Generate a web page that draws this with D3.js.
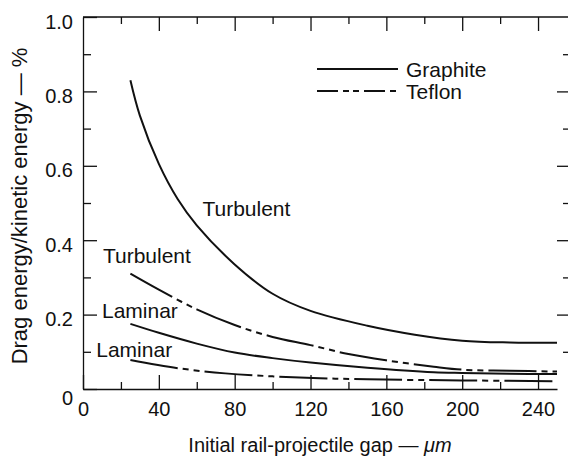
<!DOCTYPE html>
<html>
<head>
<meta charset="utf-8">
<script src="https://cdn.jsdelivr.net/npm/d3@7/dist/d3.min.js"></script>
<style>
  html, body { margin: 0; padding: 0; background: #fff; }
  svg { display: block; }
  text { font-family: "Liberation Sans", Arial, Helvetica, sans-serif; fill: #111; }
</style>
</head>
<body>
<svg id="chart" width="568" height="462"></svg>
<script>
// Initial rail-projectile gap (µm)
const gapTurbGraphite = [25, 30, 40, 50, 60, 80, 100, 120, 150, 175, 200, 225, 250];
const graphiteTurbulent = [0.83, 0.735, 0.605, 0.51, 0.44, 0.335, 0.256, 0.210, 0.170, 0.146, 0.130, 0.125, 0.124];

const gapTurbTeflon = [25, 40, 60, 80, 100, 120, 140, 160, 185, 200, 225, 250];
const teflonTurbulent = [0.31, 0.267, 0.214, 0.172, 0.140, 0.118, 0.094, 0.077, 0.060, 0.052, 0.049, 0.047];

const gapLamGraphite = [25, 40, 60, 80, 100, 120, 150, 185, 200, 225, 250];
const graphiteLaminar = [0.175, 0.151, 0.122, 0.098, 0.083, 0.071, 0.057, 0.045, 0.043, 0.041, 0.040];

const gapLamTeflon = [25, 50, 75, 100, 125, 150, 200, 250];
const teflonLaminar = [0.078, 0.056, 0.042, 0.034, 0.029, 0.026, 0.023, 0.021];

// Axis ticks
const xMajorTicks = [0, 40, 80, 120, 160, 200, 240];
const xMinorTicks = [20, 60, 100, 140, 180, 220];
const yMajorTicks = [0, 0.2, 0.4, 0.6, 0.8, 1.0];
const yMinorTicks = [0.1, 0.3, 0.5, 0.7, 0.9];

const legendLabels = ["Graphite", "Teflon"];

const W = 568, H = 462;
const plotLeft = 83, plotRight = 557, plotTop = 17, plotBottom = 389;

const svg = d3.select("#chart");
const x = d3.scaleLinear().domain([0, 250]).range([plotLeft, plotRight]);
const y = d3.scaleLinear().domain([0, 1]).range([plotBottom, plotTop]);

const ink = "#111";
const axisStroke = 1.3;

function styleAxis(g) {
  g.selectAll("path, line").attr("stroke", ink).attr("stroke-width", axisStroke);
  g.selectAll("text").attr("fill", ink).style("font-size", "20px")
    .style("font-family", '"Liberation Sans", Arial, Helvetica, sans-serif');
}

// Bottom axis: labelled majors, short minors
svg.append("g").attr("transform", `translate(0,${plotBottom})`)
  .call(d3.axisBottom(x).tickValues(xMajorTicks).tickSizeInner(-14).tickSizeOuter(0)
    .tickPadding(13).tickFormat(d3.format("d")))
  .call(styleAxis)
  .call(g => g.selectAll("text").attr("dy", "0.71em"));
svg.append("g").attr("transform", `translate(0,${plotBottom})`)
  .call(d3.axisBottom(x).tickValues(xMinorTicks).tickSizeInner(-7).tickSizeOuter(0).tickFormat(""))
  .call(styleAxis)
  .call(g => g.select(".domain").remove());

// Top frame with inward ticks
svg.append("line").attr("x1", plotLeft).attr("x2", W).attr("y1", plotTop).attr("y2", plotTop)
  .attr("stroke", ink).attr("stroke-width", axisStroke);
svg.append("g").attr("transform", `translate(0,${plotTop})`)
  .call(d3.axisTop(x).tickValues(xMajorTicks.slice(1)).tickSizeInner(-14).tickSizeOuter(0).tickFormat(""))
  .call(styleAxis)
  .call(g => g.select(".domain").remove());
svg.append("g").attr("transform", `translate(0,${plotTop})`)
  .call(d3.axisTop(x).tickValues(xMinorTicks).tickSizeInner(-7).tickSizeOuter(0).tickFormat(""))
  .call(styleAxis)
  .call(g => g.select(".domain").remove());

// Left axis
svg.append("g").attr("transform", `translate(${plotLeft},0)`)
  .call(d3.axisLeft(y).tickValues(yMajorTicks).tickSizeInner(-14).tickSizeOuter(0)
    .tickPadding(10).tickFormat(d => d === 0 ? "0" : d3.format(".1f")(d)))
  .call(styleAxis)
  .call(g => g.selectAll("text").attr("dy", d => d === 0 ? "0.75em" : "0.55em"));
svg.append("g").attr("transform", `translate(${plotLeft},0)`)
  .call(d3.axisLeft(y).tickValues(yMinorTicks).tickSizeInner(-8).tickSizeOuter(0).tickFormat(""))
  .call(styleAxis)
  .call(g => g.select(".domain").remove());

// Right side ticks (frame edge)
svg.append("g").attr("transform", `translate(${W},0)`)
  .call(d3.axisRight(y).tickValues(yMajorTicks.slice(1, -1)).tickSizeInner(-11).tickSizeOuter(0).tickFormat(""))
  .call(styleAxis)
  .call(g => g.select(".domain").remove());
svg.append("g").attr("transform", `translate(${W},0)`)
  .call(d3.axisRight(y).tickValues(yMinorTicks).tickSizeInner(-5).tickSizeOuter(0).tickFormat(""))
  .call(styleAxis)
  .call(g => g.select(".domain").remove());

// Curves
const teflonDash = "48,5,6,5,6,5";
const line = d3.line().x(d => x(d[0])).y(d => y(d[1])).curve(d3.curveCatmullRom.alpha(0.5));
const series = [
  { gaps: gapTurbGraphite, values: graphiteTurbulent, dash: null },
  { gaps: gapTurbTeflon, values: teflonTurbulent, dash: teflonDash },
  { gaps: gapLamGraphite, values: graphiteLaminar, dash: null },
  { gaps: gapLamTeflon, values: teflonLaminar, dash: teflonDash }
];
svg.append("g").selectAll("path").data(series).join("path")
  .attr("d", s => line(d3.zip(s.gaps, s.values)))
  .attr("fill", "none")
  .attr("stroke", ink)
  .attr("stroke-width", 2)
  .attr("stroke-dasharray", s => s.dash);

// Regime labels
const notes = [
  { text: "Turbulent", gx: 63, gy: 0.465 },
  { text: "Turbulent", gx: 10.5, gy: 0.338 },
  { text: "Laminar", gx: 10, gy: 0.19 },
  { text: "Laminar", gx: 7, gy: 0.085 }
];
svg.append("g").selectAll("text").data(notes).join("text")
  .attr("x", d => x(d.gx)).attr("y", d => y(d.gy))
  .style("font-size", "21px")
  .text(d => d.text);

// Legend
const legendDash = [null, "21,5,6,4,6,5"];
const lg = svg.append("g");
legendLabels.forEach((label, i) => {
  const ly = 69 + i * 22;
  lg.append("line").attr("x1", 317).attr("x2", 398).attr("y1", ly).attr("y2", ly)
    .attr("stroke", ink).attr("stroke-width", 2)
    .attr("stroke-dasharray", legendDash[i]);
  lg.append("text").attr("x", 406).attr("y", ly + 7.5)
    .style("font-size", "21px").text(label);
});

// Axis titles
const xt = svg.append("text").attr("x", 320).attr("y", 452)
  .attr("text-anchor", "middle").style("font-size", "20px");
xt.append("tspan").text("Initial rail-projectile gap \u2014 ");
xt.append("tspan").style("font-style", "italic").text("\u03bcm");

svg.append("text")
  .attr("transform", "translate(27,206) rotate(-90)")
  .attr("text-anchor", "middle").style("font-size", "22px")
  .text("Drag energy/kinetic energy \u2014 %");
</script>
</body>
</html>
